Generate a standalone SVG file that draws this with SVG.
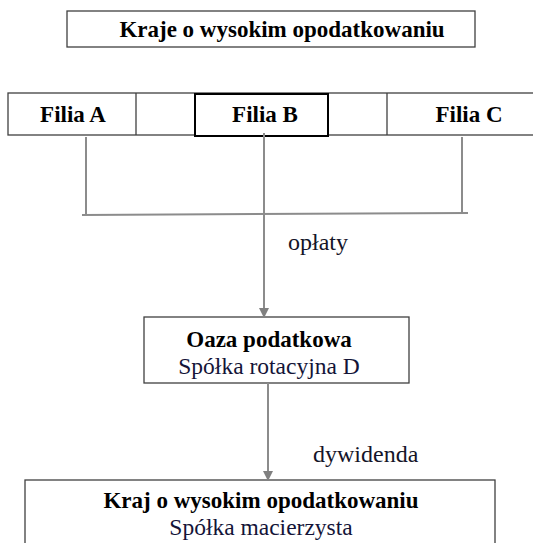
<svg xmlns="http://www.w3.org/2000/svg" width="533" height="543" viewBox="0 0 533 543">
<style>
.box{fill:#fff;stroke:#404040;stroke-width:1.3}
.bold{font-family:"Liberation Serif","Times New Roman",serif;font-weight:bold;font-size:23px;fill:#000;text-anchor:middle}
.reg{font-family:"Liberation Serif","Times New Roman",serif;font-size:23.5px;fill:#141438;text-anchor:middle}
.lbl{font-family:"Liberation Serif","Times New Roman",serif;font-size:24px;fill:#141428}
.con{stroke:#8c8c8c;stroke-width:2;fill:none}
</style>
<defs>
<marker id="arr" markerWidth="10" markerHeight="10" refX="9" refY="5" orient="auto" markerUnits="userSpaceOnUse">
<path d="M0,0 L10,5 L0,10 Z" fill="#808080"/>
</marker>
</defs>
<g id="top">
<rect class="box" x="67" y="11" width="408" height="36"/>
<text class="bold" x="282" y="37">Kraje o wysokim opodatkowaniu</text>
</g>
<g id="row">
<rect class="box" x="8" y="93" width="540" height="42"/>
<line x1="136" y1="93" x2="136" y2="135" stroke="#404040" stroke-width="1.3"/>
<line x1="387" y1="93" x2="387" y2="135" stroke="#404040" stroke-width="1.3"/>
</g>
<g id="filiaA">
<text class="bold" x="73" y="122">Filia A</text>
</g>
<g id="filiaB">
<rect x="195" y="94" width="133" height="42" fill="#fff" stroke="#000" stroke-width="2"/>
<text class="bold" x="265" y="122">Filia B</text>
</g>
<g id="filiaC">
<text class="bold" x="469" y="122">Filia C</text>
</g>
<g id="oaza">
<rect class="box" x="144" y="317" width="265" height="66"/>
<text class="bold" x="269" y="347">Oaza podatkowa</text>
<text class="reg" x="269" y="374">Spółka rotacyjna D</text>
</g>
<g id="kraj">
<rect class="box" x="25" y="480" width="470" height="80"/>
<text class="bold" x="261" y="508">Kraj o wysokim opodatkowaniu</text>
<text class="reg" x="261" y="535">Spółka macierzysta</text>
</g>
<g id="connectors">
<line class="con" x1="86" y1="137" x2="86" y2="214"/>
<line class="con" x1="462" y1="137" x2="462" y2="213"/>
<line class="con" x1="82" y1="215" x2="468" y2="213"/>
<line class="con" x1="264" y1="133" x2="264" y2="317" marker-end="url(#arr)"/>
<line class="con" x1="268" y1="383" x2="268" y2="480" marker-end="url(#arr)"/>
</g>
<text class="lbl" x="288" y="250">opłaty</text>
<text class="lbl" x="313" y="462">dywidenda</text>
</svg>
